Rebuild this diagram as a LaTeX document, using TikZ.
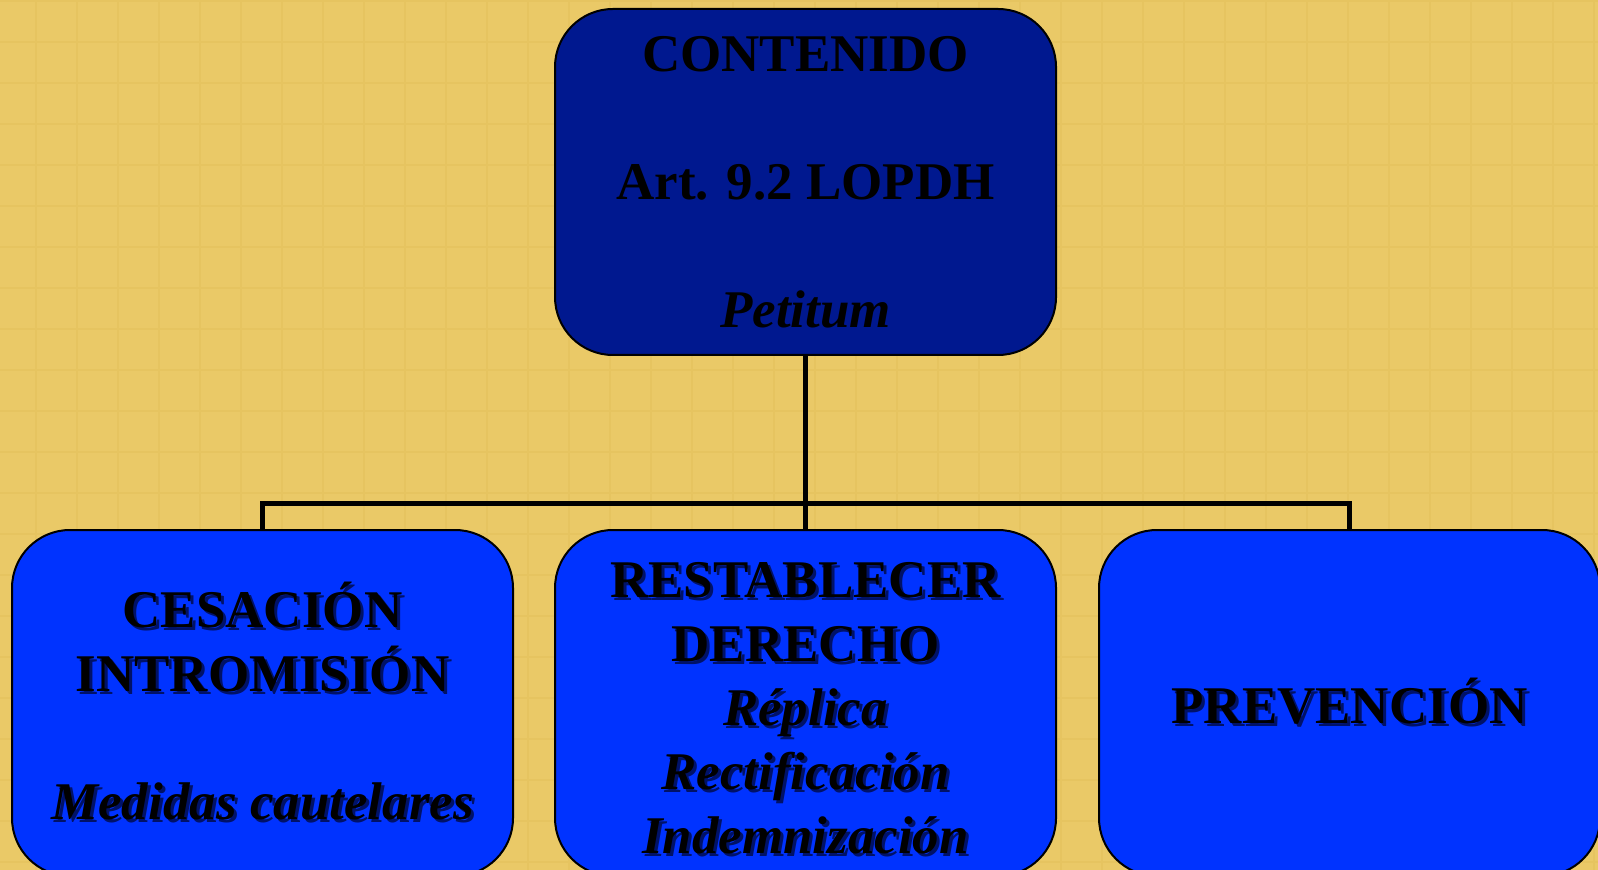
\documentclass[tikz,border=0pt]{standalone}
\usepackage{fontspec}
\setmainfont{Liberation Serif}
\usetikzlibrary{positioning, calc}
\definecolor{bg_yellow}{HTML}{EAC967}
\definecolor{grid_yellow}{HTML}{E6C460}
\definecolor{navy_blue}{HTML}{00188F}
\definecolor{bright_blue}{HTML}{0033FF}
\definecolor{text_shadow}{HTML}{001268}
\newcommand{\boxfont}{\fontsize{26.5}{32}\selectfont\bfseries}
\newcommand{\shadowed}[1]{\rlap{\kern1.5pt\raisebox{-1.5pt}{\color{text_shadow}#1}}#1}
\tikzstyle{mainbox} = [draw=black, line width=1pt, rounded corners=29pt, fill=navy_blue, minimum width=250.5pt, minimum height=173pt, align=center, font=\boxfont]
\tikzstyle{subbox} = [mainbox, fill=bright_blue]
\tikzstyle{connector} = [line width=2.5pt]
\tikzstyle{gridline} = [grid_yellow, line width=0.9pt]

\begin{document}
\begin{tikzpicture}[x=0.5pt, y=-0.5pt]
        \useasboundingbox (0,0) rectangle (1598,870);
        \clip (0,0) rectangle (1598,870);
        \fill[bg_yellow] (0,0) rectangle (1598,870);
        \draw[gridline, step=20.5pt, shift={(-5.3,1.3)}] (0,0) grid (1640,880);

        \node (contenido) [mainbox] at (805.5,182) {CONTENIDO\\[32pt] Art. 9.2 LOPDH\\[32pt] \textit{Petitum}};
        \node (restablecer) [subbox, below=86.5pt of contenido] {\rule{0pt}{24pt}\shadowed{RESTABLECER}\\ \shadowed{DERECHO}\\ \shadowed{\textit{Réplica}}\\ \shadowed{\textit{Rectificación}}\\ \shadowed{\textit{Indemnización}}};
        \node (cesacion) [subbox, left=20pt of restablecer] {\shadowed{CESACIÓN}\\ \shadowed{INTROMISIÓN}\\[32pt] \shadowed{\textit{Medidas cautelares}}};
        \node (prevencion) [subbox, right=20.5pt of restablecer] {\shadowed{PREVENCIÓN}};

        \coordinate (split) at ($(contenido.south)!0.85!(restablecer.north)$);
        \draw [connector] (contenido.south) -- (restablecer.north);
        \draw [connector] (cesacion.north) |- (split) -| (prevencion.north);

    \end{tikzpicture}
\end{document}
